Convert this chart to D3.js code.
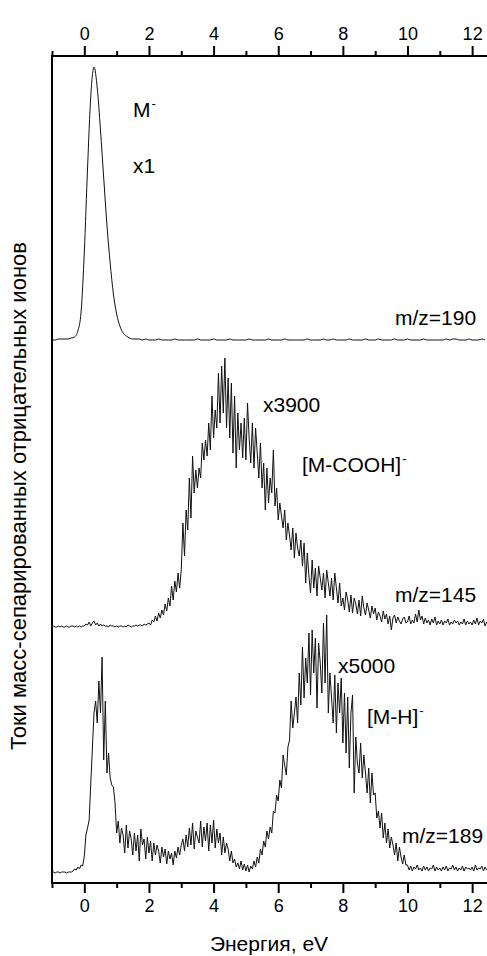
<!DOCTYPE html>
<html lang="ru">
<head>
<meta charset="UTF-8">
<title>Энергия, eV</title>
<script src="https://d3js.org/d3.v7.min.js"></script>
<style>
body { margin: 0; background: #fff; }
text { font-family: "Liberation Sans", Arial, sans-serif; fill: #000; }
.trace { fill: none; stroke: #111; stroke-width: 1; }
</style>
</head>
<body>
<div id="chart"></div>
<script>

// energy grid of the scans, eV
var energyStart = -1.0;
var stepFine = 0.05;   // m/z 145, 189
var stepCoarse = 0.1;  // m/z 190

var majorTicks = [0, 2, 4, 6, 8, 10, 12];
var minorTicks = [-1, 1, 3, 5, 7, 9, 11];

// m/z=190, M-, x1 (arb. units), 0.1 eV step
var m190 = [
  0,0,1,1,1,1,2,3,9,28,
  88,172,244,273,252,210,162,115,77,46,
  26,14,7,4,2,1,1,1,0,1,
  0,0,0,1,0,0,0,0,1,0,
  0,0,0,0,0,1,0,0,0,0,
  1,0,0,0,0,1,0,0,0,0,
  0,1,0,0,0,0,0,1,0,0,
  0,0,1,0,0,0,0,0,0,1,
  0,0,0,0,1,0,0,1,0,0,
  0,0,1,0,0,0,0,1,0,0,
  0,1,0,0,0,0,1,0,0,0,
  1,0,0,0,0,1,0,0,0,0,
  0,0,1,0,1,1,0,0,0,1,
  0,0,0,1,0
];

// m/z=145, [M-COOH]-, x3900, 0.05 eV step
var m145 = [
  1,2,1,1,2,1,2,1,1,2,1,1,2,2,1,2,1,2,1,2,
  2,4,3,6,2,5,7,3,5,2,4,2,3,2,2,1,3,2,2,1,
  2,1,2,2,1,2,1,3,2,1,2,2,3,2,3,3,2,4,3,4,
  5,3,8,6,12,7,15,10,18,13,24,17,30,22,42,28,47,36,55,40,
  58,105,72,118,98,150,110,172,135,158,140,160,150,185,168,188,172,205,178,232,
  190,218,200,255,205,262,215,270,200,250,190,245,175,232,160,215,178,205,170,210,
  168,225,190,165,205,160,200,175,150,185,140,165,118,160,125,150,135,178,122,140,
  108,125,112,100,118,88,105,92,78,100,70,95,80,72,88,62,85,45,75,52,
  35,68,40,60,32,62,50,38,55,30,58,45,32,50,28,55,40,25,45,22,
  30,18,36,28,16,33,15,30,24,14,28,12,32,20,13,25,18,10,22,14,
  20,8,16,12,6,17,9,14,4,12,-2,10,13,5,11,7,4,9,11,5,
  6,12,4,8,5,14,6,18,8,12,4,10,5,8,3,9,5,11,3,7,
  4,8,3,7,5,9,3,6,4,8,5,7,3,6,4,9,3,7,4,6,
  3,8,4,10,3,7,5,9,2,6
];

// m/z=189, [M-H]-, x5000, 0.05 eV step
var m189 = [
  1,1,0,1,1,0,1,1,1,0,1,1,1,2,4,3,6,4,8,7,
  17,38,45,53,90,125,160,172,150,192,160,216,113,172,100,120,95,88,86,70,
  40,52,30,45,38,20,48,25,42,34,18,40,22,38,12,44,28,34,14,36,
  20,32,12,30,18,28,22,10,26,16,24,9,22,14,20,8,22,15,26,18,
  28,34,22,38,26,45,28,50,24,42,36,30,52,26,46,32,50,22,48,30,
  53,25,44,30,40,18,36,20,30,24,12,22,10,14,6,10,4,12,3,9,
  2,8,1,7,4,12,6,16,10,24,18,32,26,42,34,46,40,62,60,78,
  72,93,85,118,108,98,126,133,172,145,160,176,150,200,168,226,175,215,190,240,
  178,243,200,235,165,230,210,180,250,190,258,160,200,175,150,198,140,190,160,195,
  130,180,120,176,105,160,178,80,136,110,100,130,95,118,100,80,105,70,100,78,
  80,55,62,45,60,35,50,30,44,25,36,28,18,30,12,26,16,9,18,8,
  8,3,7,2,6,4,8,3,5,2,7,3,6,2,5,4,8,2,6,3,
  5,2,6,3,7,2,5,4,8,3,6,2,5,3,7,2,6,4,5,3,
  6,2,8,3,5,4,7,2,6,3
];

var traces = [
  { values: m190, step: stepCoarse, base: 340, smooth: true },
  { values: m145, step: stepFine, base: 628, smooth: false },
  { values: m189, step: stepFine, base: 873, smooth: false }
];

var W = 487, H = 956;
var plotLeft = 52, plotRight = 487, plotTop = 56, plotBottom = 883;

var svg = d3.select("#chart").append("svg")
    .attr("width", W)
    .attr("height", H);

var x = d3.scaleLinear().domain([-1, 12.46]).range([plotLeft, plotRight]);

// traces
traces.forEach(function(t) {
    var y = d3.scaleLinear().domain([0, 280]).range([t.base, t.base - 280]);
    var line = d3.line()
        .x(function(d, i) { return x(energyStart + i * t.step); })
        .y(function(d) { return y(d); });
    if (t.smooth) line.curve(d3.curveMonotoneX);
    svg.append("path")
        .datum(t.values)
        .attr("class", "trace")
        .attr("d", line);
});

// axes: top and bottom, major + minor ticks
function drawAxis(axisFn, ypos) {
    var major = svg.append("g")
        .attr("transform", "translate(0," + ypos + ")")
        .call(axisFn(x).tickValues(majorTicks).tickSize(10).tickSizeOuter(0).tickPadding(6)
              .tickFormat(d3.format("d")));
    var minor = svg.append("g")
        .attr("transform", "translate(0," + ypos + ")")
        .call(axisFn(x).tickValues(minorTicks).tickSize(5).tickSizeOuter(0).tickFormat(""));
    [major, minor].forEach(function(g) {
        g.select(".domain").remove();
        g.selectAll(".tick line").attr("stroke", "#000").attr("stroke-width", 2);
    });
    major.selectAll(".tick text")
        .attr("font-size", 18)
        .attr("font-family", "Liberation Sans, Arial, sans-serif")
        .attr("fill", "#000");
}
drawAxis(d3.axisTop, plotTop);
drawAxis(d3.axisBottom, plotBottom);

// frame lines (top, left, bottom)
svg.append("path")
    .attr("d", "M" + plotRight + "," + plotTop + "H" + plotLeft + "V" + plotBottom + "H" + plotRight)
    .attr("fill", "none")
    .attr("stroke", "#000")
    .attr("stroke-width", 2);

// axis titles
svg.append("text")
    .attr("x", 269).attr("y", 951)
    .attr("text-anchor", "middle")
    .attr("font-size", 21)
    .text("Энергия, eV");

svg.append("text")
    .attr("transform", "translate(26,496) rotate(-90)")
    .attr("text-anchor", "middle")
    .attr("font-size", 22)
    .text("Токи масс-сепарированных отрицательных ионов");

// annotations
var labelText = ["M", "x1", "m/z=190", "x3900", "[M-COOH]", "m/z=145", "x5000", "[M-H]", "m/z=189"];
var labelPos = [[133,117],[133,173],[395,325],[263,412],[302,472],[395,602],[338,673],[367,724],[402,843]];
var labelCharge = [true, false, false, false, true, false, false, true, false];

labelText.forEach(function(s, i) {
    var t = svg.append("text")
        .attr("x", labelPos[i][0])
        .attr("y", labelPos[i][1])
        .attr("font-size", 21)
        .text(s);
    if (labelCharge[i]) {
        t.append("tspan")
            .attr("dy", -9)
            .attr("dx", 1)
            .attr("font-size", 13)
            .text("-");
    }
});

</script>
</body>
</html>
